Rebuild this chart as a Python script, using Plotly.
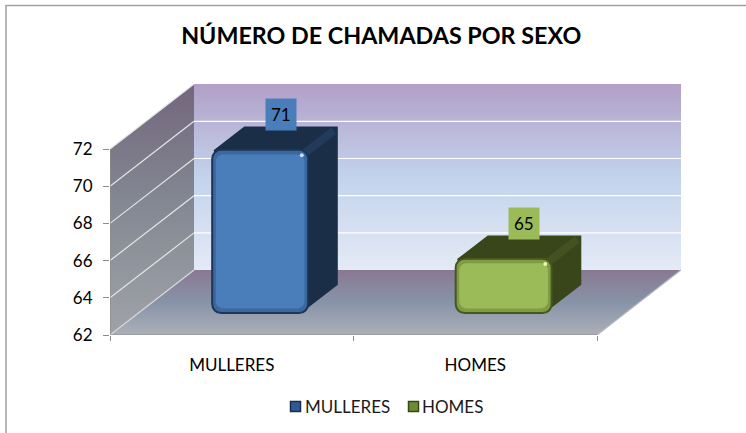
import plotly.graph_objects as go

categories = ["MULLERES", "HOMES"]
values = [71, 65]
face_colors = ["#4a7ebb", "#9bbb59"]
bevel_colors = ["#3a689f", "#7f9c45"]
side_colors = ["#1a2e47", "#38461a"]
ridge_colors = ["#223b5b", "#445222"]
edge_colors = ["#1d3557", "#46561f"]
shine_colors = ["#bfe0ff", "#eef7b0"]
swatch_colors = ["#2c5a96", "#6b8c32"]
swatch_edges = ["#1a2e47", "#38461a"]
y_ticks = [62, 64, 66, 68, 70, 72]
title = "NÚMERO DE CHAMADAS POR SEXO"

Y0, Y1 = 62, 72
DX, DY = 0.345, 3.49      # oblique offset of the full depth, in axis units
K = 0.975                 # value scale at the depth of the bars
BAR_W = 0.394
D0, D1 = 0.338, 0.69
IX, IY = 0.016, 0.2       # inset matching the thick round line on the side faces


def pr(cat, val, d, k=1.0):
    return cat + d * DX, Y0 + (val - Y0) * k + d * DY


def poly(points, **kw):
    xs = [p[0] for p in points] + [points[0][0]]
    ys = [p[1] for p in points] + [points[0][1]]
    return go.Scatter(x=xs, y=ys, mode="lines", fill="toself", showlegend=False,
                      hoverinfo="skip", **kw)


def seg(a, b, color, width):
    return go.Scatter(x=[a[0], b[0]], y=[a[1], b[1]], mode="lines", showlegend=False,
                      hoverinfo="skip", line=dict(color=color, width=width))


def vgrad(*cols):
    n = len(cols) - 1
    return dict(type="vertical", colorscale=[[i / n, c] for i, c in enumerate(cols)])


fig = go.Figure()
fig.add_trace(poly([pr(0, Y0, 1), pr(2, Y0, 1), pr(2, Y1, 1), pr(0, Y1, 1)],
                   line=dict(width=0),
                   fillgradient=vgrad("#e4eaf6", "#c3d3ec", "#b29fc7")))
fig.add_trace(poly([pr(0, Y0, 0), pr(0, Y0, 1), pr(0, Y1, 1), pr(0, Y1, 0)],
                   line=dict(width=0),
                   fillgradient=vgrad("#a0a2a8", "#848a94", "#73667c")))
fig.add_trace(poly([pr(0, Y0, 0), pr(2, Y0, 0), pr(2, Y0, 1), pr(0, Y0, 1)],
                   line=dict(width=0),
                   fillgradient=vgrad("#acafb8", "#8794a8", "#8a7893")))
for v in y_ticks[1:]:
    fig.add_trace(seg(pr(0, v, 0), pr(0, v, 1), "#e6e6e6", 1.2))
    if v < Y1:
        fig.add_trace(seg(pr(0, v, 1), pr(2, v, 1), "#ffffff", 1.2))
fig.add_trace(seg(pr(0, Y0, 0), pr(0, Y0, 1), "#d9d9d9", 1.2))
fig.add_trace(seg(pr(2, Y0, 0), pr(2, Y0, 1), "#b4b7bd", 1.2))
fig.add_trace(seg(pr(0, Y0, 0), pr(2, Y0, 0), "#8c8c8c", 1.2))
fig.add_trace(seg(pr(0, Y0, 0), pr(0, Y1, 0), "#8c8c8c", 1.2))

for i, v in enumerate(values):
    c = i + 0.5
    xl, xr = c - BAR_W / 2, c + BAR_W / 2
    # top + side faces with a thick round line, which rounds the corners
    fig.add_trace(poly([pr(xr - IX, Y0 + 2 * IY, D0), pr(xr - IX, Y0 + 2 * IY, D1),
                        pr(xr - IX, v - IY, D1, K), pr(xl + IX, v - IY, D1, K),
                        pr(xl + IX, v - IY, D0, K), pr(xr - IX, v - IY, D0, K)],
                       line=dict(width=8, color=side_colors[i]),
                       fillcolor=side_colors[i]))
    fig.add_trace(seg(pr(xr - IX, v - IY, D0, K), pr(xr - IX, v - IY, D1, K),
                      ridge_colors[i], 8))
    # front face on the overlaying axes, so it lies above the faces behind it
    fx, base = pr(c, Y0, D0)
    _, top = pr(c, v, D0, K)
    fig.add_trace(go.Bar(x=[fx], y=[top - base], base=[base], width=BAR_W, xaxis="x2", yaxis="y2",
                         name=categories[i], hoverinfo="skip", showlegend=False,
                         marker=dict(color=bevel_colors[i], cornerradius=9,
                                     line=dict(color=edge_colors[i], width=2))))
    fig.add_trace(go.Bar(x=[fx], y=[top - base - 0.5], base=[base + 0.25], width=BAR_W - 0.03,
                         xaxis="x2", yaxis="y2", hoverinfo="skip", showlegend=False,
                         marker=dict(color=face_colors[i], cornerradius=7, line=dict(width=0))))
    sx, sy = pr(xr - 0.026, v - 0.3, D0, K)
    fig.add_trace(go.Scatter(x=[sx], y=[sy], xaxis="x2", yaxis="y2", mode="markers",
                             showlegend=False, hoverinfo="skip",
                             marker=dict(size=4, color=shine_colors[i], line=dict(width=0))))

x_dom = [110 / 746, 681 / 746]
x_rng = [0, 571 / 243.5]
y_dom = [(433 - 335) / 433, (433 - 84) / 433]
y_rng = [Y0, Y0 + 251 / 18.6]

swatches = []
for cx, col, edge in zip([295.5, 413.5], swatch_colors, swatch_edges):
    swatches.append(dict(type="rect", xref="paper", yref="paper", x0=(cx - 5) / 746, x1=(cx + 5) / 746,
                         y0=(433 - 411.5) / 433, y1=(433 - 401.5) / 433,
                         fillcolor=col, line=dict(color=edge, width=1.5)))

fig.update_layout(
    width=746, height=433, autosize=False,
    margin=dict(l=0, r=0, t=0, b=0, autoexpand=False),
    paper_bgcolor="white", plot_bgcolor="rgba(0,0,0,0)",
    barmode="overlay", showlegend=False,
    title=dict(text="<b>%s</b>" % title, x=0.511, xanchor="center", y=0.917, yanchor="middle",
               font=dict(family="Lato", size=23.3, color="#000000")),
    font=dict(family="Lato", size=17, color="#000000"),
    xaxis=dict(domain=x_dom, range=x_rng, showgrid=False,
               zeroline=False, showline=False, tickmode="array", tickvals=[0.5, 1.5],
               ticktext=categories, ticks="", ticklabelstandoff=18, fixedrange=True,
               minor=dict(tickmode="array", tickvals=[0, 1, 2], ticks="outside",
                          ticklen=5, tickcolor="#8c8c8c", tickwidth=1)),
    yaxis=dict(domain=y_dom, range=y_rng, showgrid=False, zeroline=False, showline=False,
               tickmode="array", tickvals=y_ticks, ticks="outside", ticklen=6,
               tickcolor="#8c8c8c", fixedrange=True, ticklabelstandoff=7),
    xaxis2=dict(domain=x_dom, range=x_rng, overlaying="x", visible=False, fixedrange=True),
    yaxis2=dict(domain=y_dom, range=y_rng, overlaying="y", visible=False, fixedrange=True),
    shapes=[dict(type="rect", xref="paper", yref="paper", x0=6 / 746, x1=1.02, y0=-0.02,
                 y1=(433 - 5.5) / 433, line=dict(color="#a0a0a0", width=1.5), layer="below")] + swatches,
)

for i, v in enumerate(values):
    x, y = pr(i + 0.5, v, 0.585, K)
    fig.add_annotation(x=x, y=y, text=str(v), showarrow=False, yanchor="bottom", yshift=3,
                       bgcolor=face_colors[i], font=dict(size=17, color="#000000"),
                       borderpad=5)

for name, px in zip(categories, [305, 422]):
    fig.add_annotation(xref="paper", yref="paper", x=px / 746, y=(433 - 406) / 433, text=name,
                       showarrow=False, xanchor="left", yanchor="middle", borderpad=0, borderwidth=0,
                       font=dict(size=17, color="#1a1a1a"))

fig.write_html("out.html", post_script="document.body.style.margin='0';",
               config={"displayModeBar": False})
